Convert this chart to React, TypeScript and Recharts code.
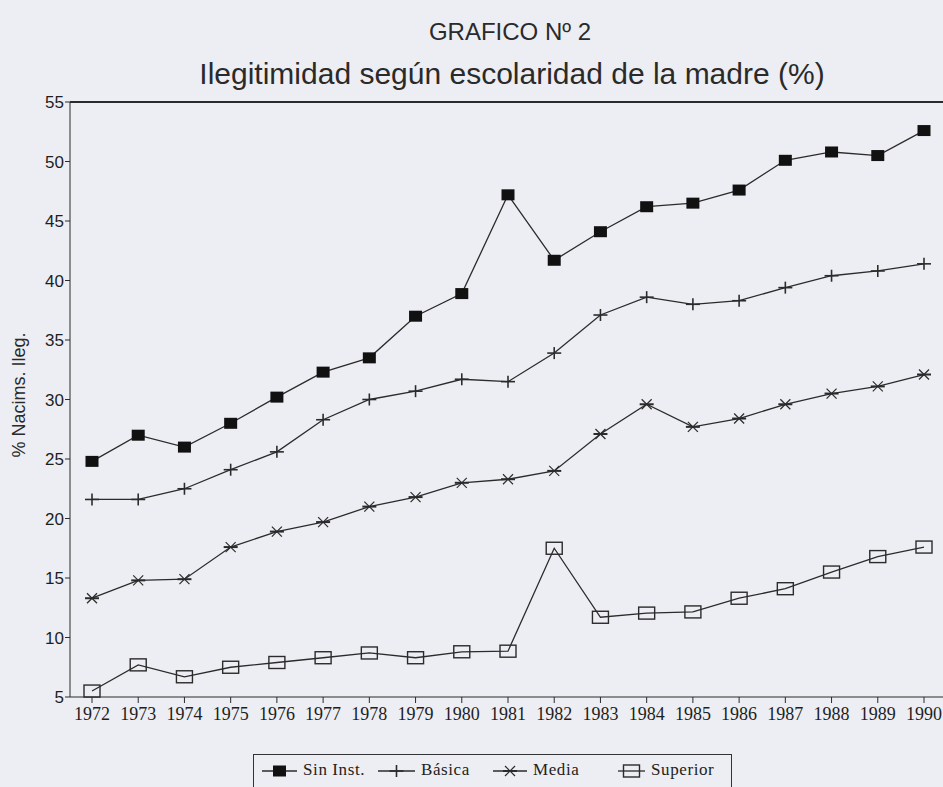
import { LineChart, Line, XAxis, YAxis, ReferenceLine } from "recharts"

const years = [1972, 1973, 1974, 1975, 1976, 1977, 1978, 1979, 1980, 1981, 1982, 1983, 1984, 1985, 1986, 1987, 1988, 1989, 1990]
const sinInst = [24.8, 27.0, 26.0, 28.0, 30.2, 32.3, 33.5, 37.0, 38.9, 47.2, 41.7, 44.1, 46.2, 46.5, 47.6, 50.1, 50.8, 50.5, 52.6]
const basica = [21.6, 21.6, 22.5, 24.1, 25.6, 28.3, 30.0, 30.7, 31.7, 31.5, 33.9, 37.1, 38.6, 38.0, 38.3, 39.4, 40.4, 40.8, 41.4]
const media = [13.3, 14.8, 14.9, 17.6, 18.9, 19.7, 21.0, 21.8, 23.0, 23.3, 24.0, 27.1, 29.6, 27.7, 28.4, 29.6, 30.5, 31.1, 32.1]
const superior = [5.5, 7.7, 6.7, 7.5, 7.9, 8.3, 8.7, 8.3, 8.8, 8.85, 17.5, 11.7, 12.05, 12.15, 13.3, 14.1, 15.5, 16.8, 17.6]
const yTicks = [5, 10, 15, 20, 25, 30, 35, 40, 45, 50, 55]

const data = years.map((y, i) => ({
  year: y,
  sinInst: sinInst[i],
  basica: basica[i],
  media: media[i],
  superior: superior[i],
}))

const INK = "#2b2b2b"
const BG = "#edeef3"

const SquareDot = (p: any) => (
  <rect key={`s${p.index}`} x={p.cx - 6.5} y={p.cy - 5.5} width={13} height={11} fill="#111" />
)
const PlusDot = (p: any) => (
  <g key={`b${p.index}`} stroke={INK} strokeWidth={1.6}>
    <line x1={p.cx - 7} y1={p.cy} x2={p.cx + 7} y2={p.cy} />
    <line x1={p.cx} y1={p.cy - 6} x2={p.cx} y2={p.cy + 6} />
  </g>
)
const StarDot = (p: any) => (
  <g key={`m${p.index}`} stroke={INK} strokeWidth={1.2}>
    <line x1={p.cx - 7} y1={p.cy} x2={p.cx + 7} y2={p.cy} strokeWidth={2} />
    <line x1={p.cx - 5} y1={p.cy - 5} x2={p.cx + 5} y2={p.cy + 5} />
    <line x1={p.cx - 5} y1={p.cy + 5} x2={p.cx + 5} y2={p.cy - 5} />
  </g>
)
const BoxDot = (p: any) => (
  <rect key={`u${p.index}`} x={p.cx - 8} y={p.cy - 6} width={16} height={12} fill="none" stroke={INK} strokeWidth={1.4} />
)

// legend: marker start, marker width, text start
const legendItems = [
  { label: "Sin Inst.", Dot: SquareDot, x: 262, w: 35, tx: 303 },
  { label: "Básica", Dot: PlusDot, x: 378, w: 37, tx: 421 },
  { label: "Media", Dot: StarDot, x: 493, w: 34, tx: 533 },
  { label: "Superior", Dot: BoxDot, x: 618, w: 27, tx: 651 },
]

export default function App() {
  return (
    <div style={{ position: "absolute", left: 0, top: 0, width: 943, height: 787, background: BG, overflow: "hidden" }}>
      <div style={{ position: "absolute", left: 0, width: 1020, top: 18, textAlign: "center", font: "24px 'Liberation Sans', sans-serif", color: "#2a2a2a" }}>
        GRAFICO Nº 2
      </div>
      <div style={{ position: "absolute", left: 0, width: 1024, top: 57, textAlign: "center", font: "30px 'Liberation Sans', sans-serif", color: "#2a2a2a" }}>
        Ilegitimidad según escolaridad de la madre (%)
      </div>
      <div style={{ position: "absolute", left: 19, top: 395, transform: "translate(-50%,-50%) rotate(-90deg)", whiteSpace: "nowrap", font: "18px 'Liberation Sans', sans-serif", color: "#2a2a2a" }}>
        % Nacims. Ileg.
      </div>
      <LineChart width={943} height={787} data={data} margin={{ top: 102, right: 0, bottom: 60, left: 0 }} style={{ position: "absolute", left: 0, top: 0 }}>
        <XAxis
          dataKey="year"
          type="number"
          domain={[1972, 1990]}
          ticks={years}
          padding={{ left: 22, right: 19 }}
          height={30}
          tickSize={6}
          tickMargin={4}
          stroke={INK}
          tick={{ fill: "#1e1e1e", fontSize: 18, fontFamily: "'Liberation Serif', serif" }}
        />
        <YAxis
          type="number"
          domain={[5, 55]}
          ticks={yTicks}
          width={70}
          tickSize={5}
          tickMargin={1}
          stroke={INK}
          tick={{ fill: "#1e1e1e", fontSize: 17, fontFamily: "'Liberation Sans', sans-serif" }}
        />
        <ReferenceLine y={55} stroke={INK} strokeWidth={2} />
        <Line dataKey="sinInst" stroke={INK} strokeWidth={1.3} dot={SquareDot} isAnimationActive={false} />
        <Line dataKey="basica" stroke={INK} strokeWidth={1.3} dot={PlusDot} isAnimationActive={false} />
        <Line dataKey="media" stroke={INK} strokeWidth={1.3} dot={StarDot} isAnimationActive={false} />
        <Line dataKey="superior" stroke={INK} strokeWidth={1.3} dot={BoxDot} isAnimationActive={false} />
      </LineChart>
      <div style={{ position: "absolute", left: 253, top: 754, width: 479, height: 50, border: "1.5px solid #333", boxSizing: "border-box" }} />
      {legendItems.map((it, i) => (
        <div key={it.label}>
          <svg width={it.w} height={16} style={{ position: "absolute", left: it.x, top: 763 }}>
            <line x1={0} y1={8} x2={it.w} y2={8} stroke={INK} strokeWidth={1.3} />
            {it.Dot({ cx: it.w / 2, cy: 8, index: "l" + i })}
          </svg>
          <span style={{ position: "absolute", left: it.tx, top: 760, font: "17px 'Liberation Serif', serif", color: "#222", letterSpacing: 0.6, whiteSpace: "nowrap" }}>
            {it.label}
          </span>
        </div>
      ))}
    </div>
  )
}
